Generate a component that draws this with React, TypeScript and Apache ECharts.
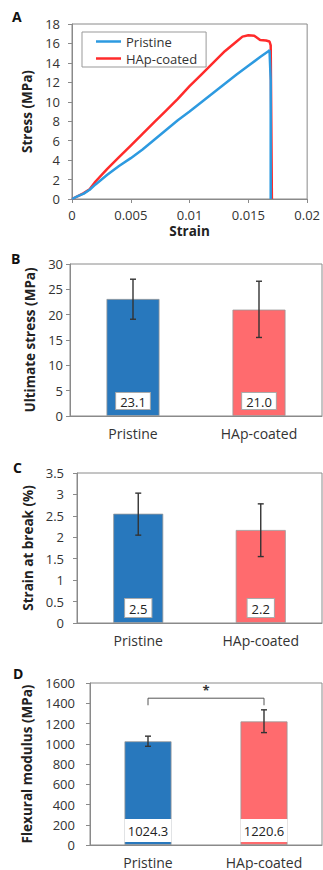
import React, { useEffect, useRef } from "react";
import * as echarts from "echarts";

// Panel A: stress-strain curves
const strainPristine = [0, 0.0005, 0.001, 0.0015, 0.002, 0.003, 0.004, 0.005, 0.006, 0.007, 0.008, 0.009, 0.01, 0.011, 0.012, 0.013, 0.014, 0.015, 0.016, 0.0167, 0.0168, 0.0169, 0.0169];
const stressPristine = [0, 0.3, 0.55, 0.95, 1.5, 2.5, 3.4, 4.2, 5.1, 6.1, 7.1, 8.1, 9.0, 9.95, 10.9, 11.85, 12.8, 13.7, 14.6, 15.2, 15.3, 12.2, 0];
const strainHAp = [0, 0.0005, 0.001, 0.0015, 0.002, 0.003, 0.004, 0.005, 0.006, 0.007, 0.008, 0.009, 0.01, 0.011, 0.012, 0.013, 0.014, 0.0145, 0.015, 0.0155, 0.016, 0.0165, 0.0168, 0.0169, 0.017];
const stressHAp = [0, 0.3, 0.6, 1.0, 1.8, 3.1, 4.3, 5.5, 6.7, 7.9, 9.1, 10.3, 11.6, 12.8, 14.0, 15.2, 16.2, 16.7, 16.85, 16.8, 16.35, 16.3, 16.2, 15.8, 0];

// Bar panels
const categories = ["Pristine", "HAp-coated"];
const ultimateStress = [23.1, 21.0];
const ultimateStressErr = [[19.1, 27.0], [15.5, 26.6]];
const strainAtBreak = [2.55, 2.17];
const strainAtBreakLabels = ["2.5", "2.2"];
const strainAtBreakErr = [[2.05, 3.03], [1.55, 2.78]];
const flexModulus = [1024.3, 1220.6];
const flexModulusErr = [[975, 1075], [1110, 1335]];
const sigBracket = [[0, 1, 1450, 1380]];

const FONT = "Open Sans";
const BLUE_BAR = "#2878bd";
const RED_BAR = "#ff6b6e";
const AXIS = "#8a8a8a";
const TXT = "#333";

function errorSeries(gridIdx: number, errs: number[][]) {
  return {
    type: "custom",
    xAxisIndex: gridIdx,
    yAxisIndex: gridIdx,
    data: errs.map((e, i) => [i, e[0], e[1]]),
    z: 10,
    renderItem: (params: any, api: any) => {
      const lo = api.coord([api.value(0), api.value(1)]);
      const hi = api.coord([api.value(0), api.value(2)]);
      const cap = 3;
      const st = { stroke: "#333", lineWidth: 1.4 };
      return {
        type: "group",
        children: [
          { type: "line", shape: { x1: lo[0], y1: lo[1], x2: hi[0], y2: hi[1] }, style: st },
          { type: "line", shape: { x1: lo[0] - cap, y1: lo[1], x2: lo[0] + cap, y2: lo[1] }, style: st },
          { type: "line", shape: { x1: hi[0] - cap, y1: hi[1], x2: hi[0] + cap, y2: hi[1] }, style: st },
        ],
      };
    },
  };
}

function catAxis(gridIdx: number) {
  return {
    type: "category",
    gridIndex: gridIdx,
    data: categories,
    axisLine: { lineStyle: { color: AXIS } },
    axisTick: { lineStyle: { color: AXIS }, length: 4 },
    axisLabel: { color: TXT, fontFamily: FONT, fontSize: 14, margin: 10 },
  };
}

function valAxis(gridIdx: number, name: string, min: number, max: number, interval: number, gap: number, margin: number) {
  return {
    type: "value",
    gridIndex: gridIdx,
    name,
    nameLocation: "middle",
    nameGap: gap,
    nameTextStyle: { fontFamily: FONT, fontWeight: "bold", fontSize: 13.5, color: "#222" },
    min,
    max,
    interval,
    splitLine: { show: false },
    axisLine: { show: true, lineStyle: { color: AXIS } },
    axisTick: { show: true, length: 4, lineStyle: { color: AXIS } },
    axisLabel: { color: TXT, fontFamily: FONT, fontSize: 13, margin, formatter: (v: number) => String(v) },
  };
}

function barSeries(gridIdx: number, values: number[], labels: string[], labelStyle: any, barWidth: number) {
  return {
    type: "bar",
    xAxisIndex: gridIdx,
    yAxisIndex: gridIdx,
    barWidth,
    data: values.map((v, i) => ({
      value: v,
      itemStyle: { color: i === 0 ? BLUE_BAR : RED_BAR, borderColor: "#999", borderWidth: 0.8 },
    })),
    label: {
      show: true,
      position: "insideBottom",
      formatter: (p: any) => labels[p.dataIndex],
      fontFamily: FONT,
      fontSize: 13,
      color: "#222",
      backgroundColor: "#fff",
      ...labelStyle,
    },
  };
}

export default function App() {
  const ref = useRef<HTMLDivElement>(null);
  useEffect(() => {
    document.body.style.margin = "0";
    const chart = echarts.init(ref.current!, null, { renderer: "svg" });
    const gridBox = { show: true, borderColor: AXIS, borderWidth: 1, backgroundColor: "transparent" };
    chart.setOption({
      animation: false,
      textStyle: { fontFamily: FONT },
      grid: [
        { left: 72, top: 24, width: 240, height: 175, ...gridBox },
        { left: 70, top: 264, width: 252, height: 152, ...gridBox },
        { left: 77, top: 473, width: 245, height: 150, ...gridBox },
        { left: 90, top: 683, width: 232, height: 162, ...gridBox },
      ],
      legend: {
        left: 82,
        top: 32,
        orient: "vertical",
        data: ["Pristine", "HAp-coated"],
        icon: "rect",
        itemWidth: 25,
        itemHeight: 2.5,
        itemGap: 4,
        padding: [3, 9, 2, 14],
        borderColor: "#999",
        borderWidth: 1,
        textStyle: { fontFamily: FONT, fontSize: 13, lineHeight: 13, color: TXT },
      },
      graphic: [
        { type: "text", left: 12, top: 9, style: { text: "A", font: `bold 14px ${FONT}`, fill: "#111" } },
        { type: "text", left: 11, top: 251, style: { text: "B", font: `bold 14px ${FONT}`, fill: "#111" } },
        { type: "text", left: 13, top: 460, style: { text: "C", font: `bold 14px ${FONT}`, fill: "#111" } },
        { type: "text", left: 13, top: 666, style: { text: "D", font: `bold 14px ${FONT}`, fill: "#111" } },
      ],
      xAxis: [
        {
          type: "value",
          gridIndex: 0,
          min: 0,
          max: 0.02,
          interval: 0.005,
          name: "Strain",
          nameLocation: "middle",
          nameGap: 25,
          nameTextStyle: { fontFamily: FONT, fontWeight: "bold", fontSize: 13.5, color: "#222" },
          splitLine: { show: false },
          axisLine: { lineStyle: { color: AXIS } },
          axisTick: { show: true, length: 4, lineStyle: { color: AXIS } },
          axisLabel: { color: TXT, fontFamily: FONT, fontSize: 13, margin: 9 },
        },
        catAxis(1),
        catAxis(2),
        catAxis(3),
      ],
      yAxis: [
        valAxis(0, "Stress (MPa)", 0, 18, 2, 30, 12),
        valAxis(1, "Ultimate stress (MPa)", 0, 30, 5, 25, 7),
        valAxis(2, "Strain at break (%)", 0, 3.5, 0.5, 37, 13),
        valAxis(3, "Flexural modulus (MPa)", 0, 1600, 200, 50, 15),
      ],
      series: [
        {
          name: "Pristine",
          type: "line",
          xAxisIndex: 0,
          yAxisIndex: 0,
          showSymbol: false,
          symbol: "none",
          color: "#2d9ae0",
          lineStyle: { width: 2.5, color: "#2d9ae0" },
          data: strainPristine.map((x, i) => [x, stressPristine[i]]),
          z: 3,
        },
        {
          name: "HAp-coated",
          type: "line",
          xAxisIndex: 0,
          yAxisIndex: 0,
          showSymbol: false,
          symbol: "none",
          color: "#ff2b2b",
          lineStyle: { width: 2.5, color: "#ff2b2b" },
          data: strainHAp.map((x, i) => [x, stressHAp[i]]),
          z: 2,
        },
        barSeries(1, ultimateStress, ultimateStress.map((v) => v.toFixed(1)), { padding: [2, 4, 1, 4], borderColor: "#aaa", borderWidth: 1, distance: 7 }, 53),
        errorSeries(1, ultimateStressErr),
        barSeries(2, strainAtBreak, strainAtBreakLabels, { padding: [3, 4, 2, 4], borderColor: "#aaa", borderWidth: 1, distance: 6 }, 50),
        errorSeries(2, strainAtBreakErr),
        barSeries(3, flexModulus, flexModulus.map((v) => v.toFixed(1)), { padding: [5, 0, 5, 0], width: 47, align: "center", distance: 3 }, 47),
        errorSeries(3, flexModulusErr),
        {
          type: "custom",
          xAxisIndex: 3,
          yAxisIndex: 3,
          data: sigBracket,
          z: 10,
          renderItem: (params: any, api: any) => {
            const a = api.coord([api.value(0), api.value(2)]);
            const b = api.coord([api.value(1), api.value(2)]);
            const aEnd = api.coord([api.value(0), api.value(3)]);
            const st = { stroke: "#555", lineWidth: 1 };
            return {
              type: "group",
              children: [
                { type: "polyline", shape: { points: [[a[0], aEnd[1]], a, b, [b[0], aEnd[1]]] }, style: { ...st, fill: null } },
                { type: "text", style: { text: "*", x: (a[0] + b[0]) / 2, y: a[1] - 2, align: "center", verticalAlign: "bottom", font: `bold 13px ${FONT}`, fill: "#333" } },
              ],
            };
          },
        },
      ],
    });
    return () => chart.dispose();
  }, []);
  return <div ref={ref} style={{ width: 323, height: 870 }} />;
}
